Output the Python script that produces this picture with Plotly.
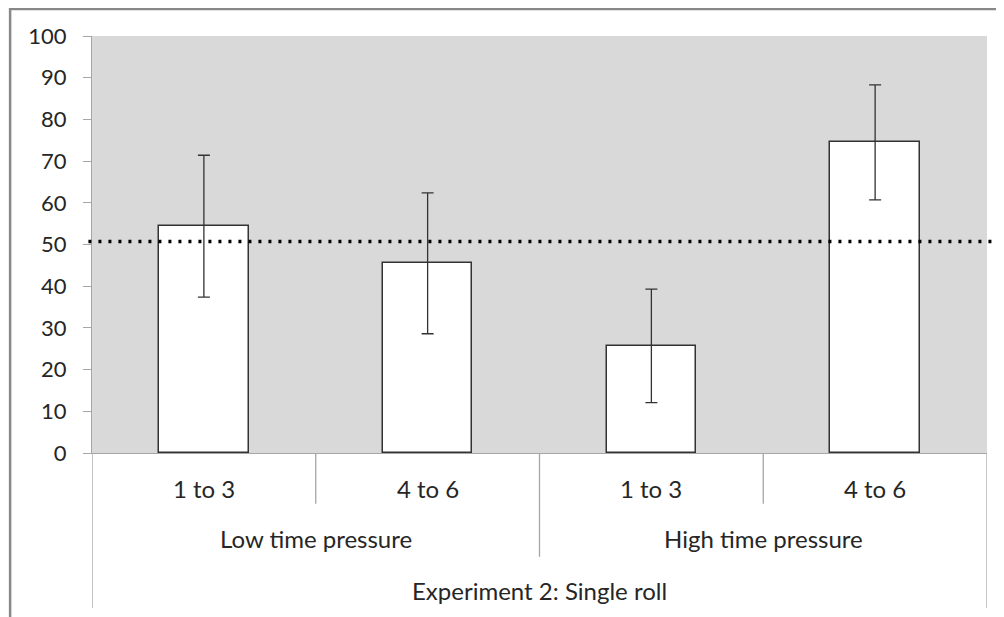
import plotly.graph_objects as go

# ---- data ----
outer_label = "Experiment 2: Single roll"
groups = ["Low time pressure", "High time pressure"]
subcats = ["1 to 3", "4 to 6"]
values = [54.4, 45.5, 25.7, 74.5]
errors = [17.0, 16.9, 13.6, 13.8]
chance_level = 50.7
y_ticks = [0, 10, 20, 30, 40, 50, 60, 70, 80, 90, 100]

FONT = "Lato, 'Open Sans', sans-serif"
TXT = "#262626"
AXC = "#a6a6a6"
CAT_SIZE = 24

n = len(groups) * len(subcats)
xpos = list(range(n))
sub_labels = [s for g in groups for s in subcats]

fig = go.Figure()
fig.add_trace(go.Bar(
    x=xpos, y=values, width=0.4,
    marker=dict(color="white", line=dict(color="#333333", width=1.5)),
    error_y=dict(type="data", array=errors, visible=True, color="#333333",
                 thickness=1.3, width=6),
    showlegend=False, hoverinfo="skip",
))

shapes = []
# chance line
shapes.append(dict(type="line", xref="paper", yref="y", x0=-0.004, x1=1.008,
                   y0=chance_level, y1=chance_level,
                   line=dict(color="black", width=3.5, dash="3px,7px")))
# outer chart border
shapes.append(dict(type="rect", xref="paper", yref="paper", x0=-0.0915, x1=1.06,
                   y0=-0.45, y1=1.0645, line=dict(color="#888888", width=2.5),
                   fillcolor="rgba(0,0,0,0)", layer="below"))
# category divider lines
for i in range(n + 1):
    b = i - 0.5
    if i == 0 or i == n:
        y0 = -0.372
    elif i % len(subcats) == 0:
        y0 = -0.249
    else:
        y0 = -0.122
    shapes.append(dict(type="line", xref="x", yref="paper", x0=b, x1=b, y0=0, y1=y0,
                       line=dict(color=AXC, width=1.3)))

annotations = []
for i, lab in enumerate(sub_labels):
    annotations.append(dict(x=xpos[i], y=-0.084, xref="x", yref="paper", text=lab,
                            yanchor="middle", xanchor="center", showarrow=False,
                            font=dict(family=FONT, size=CAT_SIZE, color=TXT)))
for gi, g in enumerate(groups):
    cx = (gi * len(subcats) + (gi + 1) * len(subcats) - 1) / 2
    annotations.append(dict(x=cx, y=-0.206, xref="x", yref="paper", text=g,
                            yanchor="middle", xanchor="center", showarrow=False,
                            font=dict(family=FONT, size=CAT_SIZE, color=TXT)))
annotations.append(dict(x=(n - 1) / 2, y=-0.33, xref="x", yref="paper", text=outer_label,
                        yanchor="middle", xanchor="center", showarrow=False,
                        font=dict(family=FONT, size=CAT_SIZE, color=TXT)))

fig.update_layout(
    width=1004, height=617,
    margin=dict(l=84, r=25, t=28, b=172),
    paper_bgcolor="white", plot_bgcolor="#d9d9d9",
    shapes=shapes, annotations=annotations,
    xaxis=dict(range=[-0.5, n - 0.5], showticklabels=False, showgrid=False,
               zeroline=False, showline=True, linecolor=AXC, linewidth=1.3, ticks=""),
    yaxis=dict(range=[0, 100], tickvals=y_ticks, showgrid=False, zeroline=False,
               showline=True, linecolor=AXC, linewidth=1.3, ticks="outside",
               ticklen=8, tickcolor=AXC, tickwidth=1.3, ticklabelstandoff=12,
               tickfont=dict(family=FONT, size=22, color=TXT)),
    bargap=0,
)

fig.write_html("out.html")
